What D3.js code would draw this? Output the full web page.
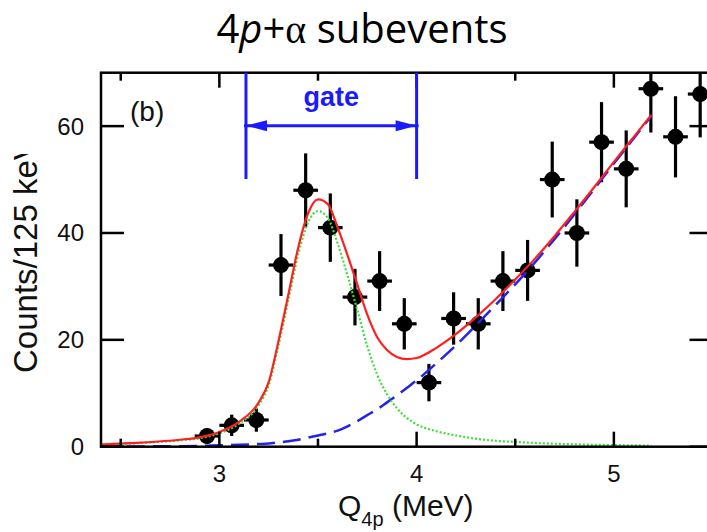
<!DOCTYPE html>
<html>
<head>
<meta charset="utf-8">
<script src="https://cdn.jsdelivr.net/npm/d3@7/dist/d3.min.js"></script>
<style>
  html, body { margin: 0; padding: 0; background: #fff; }
  svg { display: block; }
</style>
</head>
<body>
<svg id="chart" width="707" height="532"></svg>
<script>
// Measured spectrum: bin centres (MeV), counts per 125 keV bin and their errors
const binCenters = [2.9375, 3.0625, 3.1875, 3.3125, 3.4375, 3.5625, 3.6875, 3.8125, 3.9375, 4.0625,
                    4.1875, 4.3125, 4.4375, 4.5625, 4.6875, 4.8125, 4.9375, 5.0625, 5.1875, 5.3125, 5.4375];
const counts     = [2, 4, 5, 34, 48, 41, 28, 31, 23, 12, 24, 23, 31, 33, 50, 40, 57, 52, 67, 58, 66];
const countErrs  = [1.4, 2.0, 2.2, 5.8, 6.9, 6.4, 5.3, 5.6, 4.8, 3.5, 4.9, 4.8, 5.6, 5.7, 7.1, 6.3, 7.5, 7.2, 8.2, 7.6, 8.1];
const binHalfWidth = 0.0625;

// Fit components sampled along Q (MeV)
const fitQ = [2.4, 2.6, 2.8, 2.9, 3.0, 3.1, 3.2, 3.25, 3.3, 3.35, 3.4, 3.45, 3.5, 3.55, 3.6, 3.65, 3.7,
              3.75, 3.8, 3.85, 3.9, 3.95, 4.0, 4.1, 4.2, 4.3, 4.4, 4.5, 4.6, 4.7, 4.8, 4.9, 5.0, 5.1, 5.19];
const fitTotal = [0.4, 0.75, 1.3, 1.75, 2.75, 4.65, 8.3, 12.1, 19.8, 28.5, 37.3, 43.7, 46.3, 45.4, 41.0, 35.8, 30.3,
                  24.7, 20.5, 18.1, 16.8, 16.4, 16.6, 18.5, 21.1, 24.2, 27.6, 31.3, 35.2, 39.45, 43.95, 48.55, 53.3, 57.95, 62.1];
const fitPeak = [0.4, 0.7, 1.2, 1.6, 2.5, 4.3, 7.8, 11.5, 19.0, 27.5, 36.0, 42.0, 44.1, 42.8, 38.0, 32.0, 25.5,
                 18.8, 13.5, 9.8, 7.2, 5.4, 4.2, 2.9, 2.1, 1.5, 1.1, 0.9, 0.7, 0.55, 0.45, 0.35, 0.3, 0.25, 0.2];
const fitBackground = [0.0, 0.05, 0.1, 0.15, 0.25, 0.35, 0.5, 0.6, 0.8, 1.0, 1.3, 1.7, 2.1, 2.5, 3.0, 3.8, 4.8,
                       5.9, 7.0, 8.3, 9.6, 11.0, 12.4, 15.6, 19.0, 22.7, 26.5, 30.4, 34.5, 38.9, 43.5, 48.2, 53.0, 57.7, 61.9];

// Gate window (MeV)
const gateRange = [3.135, 4.0];

// Axes
const xDomain = [2.4, 5.5];
const yDomain = [0, 70];
const xMajorTicks = [3, 4, 5];
const xMinorTicks = [2.5, 3.5, 4.5, 5.5];
const yMajorTicks = [0, 20, 40, 60];

const svg = d3.select("#chart");
const plot = { left: 101, right: 712.5, top: 72.7, bottom: 446.7 };

const x = d3.scaleLinear().domain(xDomain).range([plot.left, plot.right]);
const y = d3.scaleLinear().domain(yDomain).range([plot.bottom, plot.top]);

const defs = svg.append("defs");
defs.append("clipPath").attr("id", "plot-clip")
  .append("rect")
  .attr("x", plot.left).attr("y", plot.top)
  .attr("width", plot.right - plot.left).attr("height", plot.bottom - plot.top);
defs.append("clipPath").attr("id", "ylabel-clip")
  .append("rect").attr("x", 0).attr("y", 154).attr("width", 80).attr("height", 320);
defs.append("filter").attr("id", "soft")
  .attr("x", "-50%").attr("y", "-50%").attr("width", "200%").attr("height", "200%")
  .append("feGaussianBlur").attr("stdDeviation", 0.5);

const axisFont = "'Liberation Sans', Arial, Helvetica, sans-serif";
const ink = "#111";

// Title
const title = svg.append("text")
  .attr("x", 362).attr("y", 43)
  .attr("text-anchor", "middle")
  .attr("font-family", "'Open Sans', sans-serif")
  .attr("font-size", 40)
  .attr("fill", "#000");
title.append("tspan").text("4");
title.append("tspan").attr("font-style", "italic").text("p");
title.append("tspan").text("+");
title.append("tspan").attr("font-family", "'Liberation Serif', 'DejaVu Serif', serif").text("α");
title.append("tspan").text(" subevents");

// Data markers with error bars
const pts = binCenters.map((q, i) => ({ q, n: counts[i], e: countErrs[i] }));
const marks = svg.append("g").attr("clip-path", "url(#plot-clip)")
  .append("g").attr("filter", "url(#soft)");

marks.selectAll("line.ey").data(pts).join("line")
  .attr("class", "ey")
  .attr("x1", d => x(d.q)).attr("x2", d => x(d.q))
  .attr("y1", d => y(d.n - d.e)).attr("y2", d => y(d.n + d.e))
  .attr("stroke", "#000").attr("stroke-width", 3.2);
marks.selectAll("line.ex").data(pts).join("line")
  .attr("class", "ex")
  .attr("x1", d => x(d.q - binHalfWidth)).attr("x2", d => x(d.q + binHalfWidth))
  .attr("y1", d => y(d.n)).attr("y2", d => y(d.n))
  .attr("stroke", "#000").attr("stroke-width", 3.2);
marks.selectAll("circle").data(pts).join("circle")
  .attr("cx", d => x(d.q)).attr("cy", d => y(d.n))
  .attr("r", 8).attr("fill", "#000");

// Fit curves
const curves = svg.append("g").attr("clip-path", "url(#plot-clip)");
const lineOf = vals => d3.line()
  .x((d, i) => x(fitQ[i]))
  .y(d => y(d))
  .curve(d3.curveMonotoneX)(vals);

curves.append("path").attr("d", lineOf(fitBackground))
  .attr("fill", "none").attr("stroke", "#2424e8").attr("stroke-width", 2.5)
  .attr("stroke-dasharray", "18,8");
curves.append("path").attr("d", lineOf(fitPeak))
  .attr("fill", "none").attr("stroke", "#3ede3e").attr("stroke-width", 2.2)
  .attr("stroke-dasharray", "2,2");
curves.append("path").attr("d", lineOf(fitTotal))
  .attr("fill", "none").attr("stroke", "#ff1f1f").attr("stroke-width", 2.2);

// Frame and inward ticks
const frame = svg.append("g").attr("stroke", "#000").attr("stroke-width", 2.5).attr("fill", "none");
frame.append("rect")
  .attr("x", plot.left).attr("y", plot.top)
  .attr("width", plot.right - plot.left).attr("height", plot.bottom - plot.top);

const xMajLen = 15, xMinLen = 8, yMajLen = 23;
xMajorTicks.forEach(t => {
  frame.append("line").attr("x1", x(t)).attr("x2", x(t)).attr("y1", plot.bottom).attr("y2", plot.bottom - xMajLen);
  frame.append("line").attr("x1", x(t)).attr("x2", x(t)).attr("y1", plot.top).attr("y2", plot.top + xMajLen);
});
xMinorTicks.forEach(t => {
  frame.append("line").attr("x1", x(t)).attr("x2", x(t)).attr("y1", plot.bottom).attr("y2", plot.bottom - xMinLen);
  frame.append("line").attr("x1", x(t)).attr("x2", x(t)).attr("y1", plot.top).attr("y2", plot.top + xMinLen);
});
yMajorTicks.forEach(t => {
  frame.append("line").attr("x1", plot.left).attr("x2", plot.left + yMajLen).attr("y1", y(t)).attr("y2", y(t));
  frame.append("line").attr("x1", plot.right).attr("x2", plot.right - yMajLen).attr("y1", y(t)).attr("y2", y(t));
});

// Tick labels
svg.append("g").selectAll("text").data(yMajorTicks).join("text")
  .attr("x", 84).attr("y", d => y(d) + 8.5)
  .attr("text-anchor", "end")
  .attr("font-family", axisFont).attr("font-size", 24).attr("fill", ink)
  .text(d => d);
svg.append("g").selectAll("text").data(xMajorTicks).join("text")
  .attr("x", d => x(d)).attr("y", 482)
  .attr("text-anchor", "middle")
  .attr("font-family", axisFont).attr("font-size", 24).attr("fill", ink)
  .text(d => d);

// Axis titles
const xl = svg.append("text")
  .attr("x", 338).attr("y", 516)
  .attr("font-family", axisFont).attr("font-size", 30).attr("fill", ink);
xl.append("tspan").text("Q");
xl.append("tspan").attr("font-size", 20).attr("dy", 10).text("4p");
xl.append("tspan").attr("dy", -10).text(" (MeV)");

svg.append("g").attr("clip-path", "url(#ylabel-clip)")
  .append("text")
  .attr("transform", "translate(37,373) rotate(-90)")
  .attr("font-family", axisFont).attr("font-size", 33).attr("fill", ink)
  .text("Counts/125 keV");

// Panel tag
svg.append("text")
  .attr("x", 130).attr("y", 121)
  .attr("font-family", axisFont).attr("font-size", 28).attr("fill", ink)
  .text("(b)");

// Gate marker
const gateBlue = "#1a1aff";
const gate = svg.append("g").attr("stroke", gateBlue).attr("fill", gateBlue);
const gx0 = x(gateRange[0]), gx1 = x(gateRange[1]);
const gateBottom = 179, arrowY = 125.7;
gate.append("line").attr("x1", gx0).attr("x2", gx0).attr("y1", plot.top).attr("y2", gateBottom).attr("stroke-width", 3);
gate.append("line").attr("x1", gx1).attr("x2", gx1).attr("y1", plot.top).attr("y2", gateBottom).attr("stroke-width", 3);
gate.append("line").attr("x1", gx0 - 2).attr("x2", gx1 + 2).attr("y1", arrowY).attr("y2", arrowY).attr("stroke-width", 3);
gate.append("path").attr("stroke", "none")
  .attr("d", `M${gx0},${arrowY} L${gx0 + 21},${arrowY - 5.5} L${gx0 + 21},${arrowY + 5.5} Z`);
gate.append("path").attr("stroke", "none")
  .attr("d", `M${gx1},${arrowY} L${gx1 - 21},${arrowY - 5.5} L${gx1 - 21},${arrowY + 5.5} Z`);
svg.append("text")
  .attr("x", (gx0 + gx1) / 2).attr("y", 106)
  .attr("text-anchor", "middle")
  .attr("font-family", axisFont).attr("font-weight", "bold").attr("font-size", 27)
  .attr("fill", gateBlue)
  .text("gate");
</script>
</body>
</html>
